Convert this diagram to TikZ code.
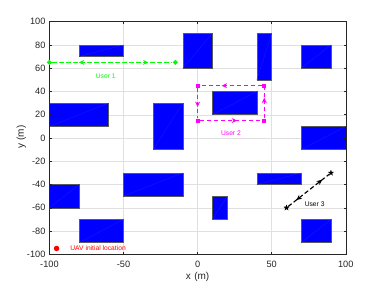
\documentclass[tikz,border=0pt]{standalone}
\usepackage{fontspec}
\setmainfont{Liberation Sans}
\usepackage{tikz}
\usetikzlibrary{arrows.meta,shapes.geometric,decorations.markings}
\definecolor{axisgray}{gray}{0.15}
\definecolor{gridgray}{gray}{0.88}
\definecolor{bldgblue}{RGB}{0,0,255}
\definecolor{usergreen}{RGB}{0,255,0}
\definecolor{usermag}{RGB}{255,0,255}

\begin{document}
\begin{tikzpicture}[x=1pt, y=1pt, every node/.style={font=\fontsize{9.2}{10}\selectfont}, bldg/.style={draw=black!65, line width=0.5pt, fill=bldgblue}, bldgdiag/.style={draw=bldgblue!88!white, line width=0.25pt}, gridline/.style={draw=gridgray, line width=0.4pt}, axisline/.style={draw=axisgray, line width=0.5pt}, ticklbl/.style={text=axisgray, inner sep=0pt}, userlbl/.style={font=\fontsize{6.7}{7}\selectfont, inner sep=0pt}, userpath/.style={dash pattern=on 4.5pt off 2.5pt, line width=1.15pt}, fwd/.style={postaction={decorate, decoration={markings, mark=at position #1 with {\arrow{Stealth[length=5.5pt,width=5pt]}}}}}, bwd/.style={postaction={decorate, decoration={markings, mark=at position #1 with {\arrowreversed{Stealth[length=5.5pt,width=5pt]}}}}}]
\useasboundingbox (0,0) rectangle (382,286);
\begin{scope}[shift={(197.6pt,148pt)}, x=1.4815pt, y=1.163pt]
% grid
\foreach \gx in {-50,0,50} \draw[gridline] (\gx,-100) -- (\gx,100);
\foreach \gy in {-80,-60,...,80} \draw[gridline] (-100,\gy) -- (100,\gy);
% buildings
\foreach \xa/\ya/\xb/\yb in {-80/70/-50/80, -10/60/10/90, 40/50/50/90, 70/60/90/80, 10/20/40/40, 70/-10/100/10, -100/10/-60/30, -30/-10/-10/30, -100/-60/-80/-40, -50/-50/-10/-30, -80/-90/-50/-70, 40/-40/70/-30, 10/-70/20/-50, 70/-90/90/-70} {
  \draw[bldg] (\xa,\ya) rectangle (\xb,\yb);
  \draw[bldgdiag] (\xa,\ya) -- (\xb,\yb);
}
% axes box and ticks
\draw[axisline] (-100,-100) rectangle (100,100);
\foreach \tx in {-50,0,50} {
  \draw[axisline] (\tx,-100) -- (\tx,-98.2);
  \draw[axisline] (\tx,100) -- (\tx,98.2);
}
\foreach \ty in {-80,-60,...,80} {
  \draw[axisline] (-100,\ty) -- (-98.6,\ty);
  \draw[axisline] (100,\ty) -- (98.6,\ty);
}
\foreach \tx [count=\i] in {-100,-50,0,50,100}
  \node[ticklbl] (xt\i) at (\tx,-108.5) {\tx};
\foreach \ty [count=\i] in {-100,-80,...,100}
  \node[ticklbl, anchor=east] (yt\i) at (-102.6,\ty) {\ty};
\node[text=axisgray, font=\fontsize{10}{11}\selectfont] (xlbl) at (0,-119.5) {x\,\,(m)};
\node[text=axisgray, font=\fontsize{10}{11}\selectfont, rotate=90] (ylbl) at (-119,1) {y (m)};
% user 1
\node[diamond, fill=usergreen, inner sep=0pt, minimum size=5.5pt] (u1a) at (-100,65) {};
\node[diamond, fill=usergreen, inner sep=0pt, minimum size=5.5pt] (u1b) at (-15,65) {};
\draw[usergreen, userpath, bwd=0.22, fwd=0.8] (u1a) -- (u1b);
\node[userlbl, text=usergreen] (u1lbl) at (-62,53.5) {User 1};
% user 2
\node[rectangle, fill=usermag, inner sep=0pt, minimum size=4pt] (u2a) at (0,45) {};
\node[rectangle, fill=usermag, inner sep=0pt, minimum size=4pt] (u2b) at (45,45) {};
\node[rectangle, fill=usermag, inner sep=0pt, minimum size=4pt] (u2c) at (45,15) {};
\node[rectangle, fill=usermag, inner sep=0pt, minimum size=4pt] (u2d) at (0,15) {};
\draw[usermag, userpath, fwd=0.65] (u2b) -- (u2a);
\draw[usermag, userpath, fwd=0.63] (u2a) -- (u2d);
\draw[usermag, userpath, fwd=0.6] (u2d) -- (u2c);
\draw[usermag, userpath, fwd=0.68] (u2c) -- (u2b);
\node[userlbl, text=usermag] (u2lbl) at (22.5,4) {User 2};
% user 3
\node[star, star points=5, star point ratio=2.4, fill=black, inner sep=0pt, minimum size=6.5pt] (u3a) at (60,-60) {};
\node[star, star points=5, star point ratio=2.4, fill=black, inner sep=0pt, minimum size=6.5pt] (u3b) at (90,-30) {};
\draw[black, userpath, bwd=0.2, fwd=0.83] (u3a) -- (u3b);
\node[userlbl, text=black] (u3lbl) at (79,-56.8) {User 3};
% uav
\node[circle, fill=red, inner sep=0pt, minimum size=5.5pt] (uav) at (-95.2,-95) {};
\node[userlbl, text=red, anchor=west] (uavlbl) at (-86,-95) {UAV initial location};
\end{scope}
\end{tikzpicture}
\end{document}
